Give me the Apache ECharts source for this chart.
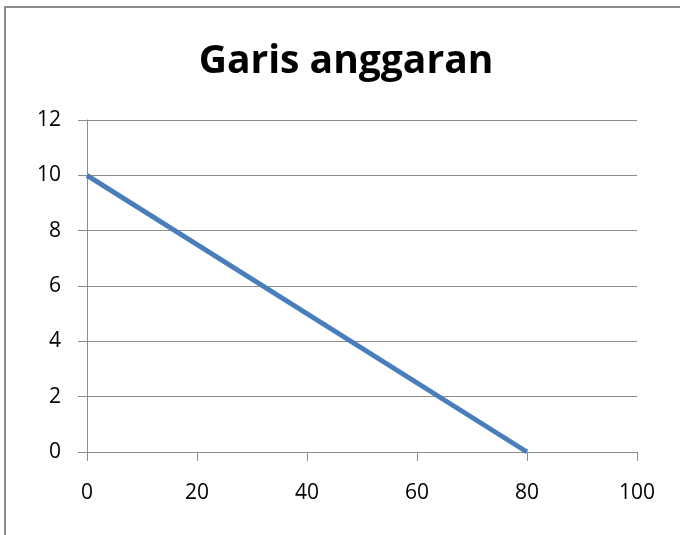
<!DOCTYPE html>
<html>
<head>
<meta charset="utf-8">
<script src="https://cdn.jsdelivr.net/npm/echarts@6/dist/echarts.min.js"></script>
<style>
  html, body { margin: 0; padding: 0; background: #fff; }
  #main { width: 680px; height: 535px; }
</style>
</head>
<body>
<div id="main"></div>
<script>
// data
var xValues = [0, 80];
var yValues = [10, 0];
var chartTitle = 'Garis anggaran';

var points = xValues.map(function (x, i) { return [x, yValues[i]]; });

var chart = echarts.init(document.getElementById('main'));

var axisGray = '#8c8c8c';

var option = {
  animation: false,
  backgroundColor: '#ffffff',
  title: {
    text: chartTitle,
    left: 341,
    top: 37,
    textAlign: 'center',
    textStyle: {
      fontFamily: 'Open Sans',
      fontWeight: 'bold',
      fontSize: 39,
      color: '#000'
    }
  },
  grid: {
    left: 87,
    right: 43,
    top: 120,
    bottom: 83
  },
  xAxis: {
    type: 'value',
    min: 0,
    max: 100,
    interval: 20,
    axisLine: { show: true, onZero: false, lineStyle: { color: axisGray, width: 1 } },
    axisTick: { show: true, inside: false, length: 9, lineStyle: { color: axisGray } },
    splitLine: { show: false },
    axisLabel: {
      margin: 31,
      fontFamily: 'Open Sans',
      fontSize: 21,
      color: '#000'
    }
  },
  yAxis: {
    type: 'value',
    min: 0,
    max: 12,
    interval: 2,
    axisLine: { show: true, lineStyle: { color: axisGray, width: 1 } },
    axisTick: { show: true, length: 9, lineStyle: { color: axisGray } },
    splitLine: { show: true, lineStyle: { color: axisGray, width: 1 } },
    axisLabel: {
      margin: 26,
      fontFamily: 'Open Sans',
      fontSize: 21,
      color: '#000'
    }
  },
  series: [{
    type: 'line',
    data: points,
    symbol: 'none',
    lineStyle: { color: '#4a7ebb', width: 5 }
  }],
  graphic: [{
    type: 'polyline',
    shape: { points: [[5, 535], [5, 7], [680, 7]] },
    style: { stroke: '#8c8c8c', lineWidth: 2, fill: null }
  }]
};

chart.setOption(option);
</script>
</body>
</html>
